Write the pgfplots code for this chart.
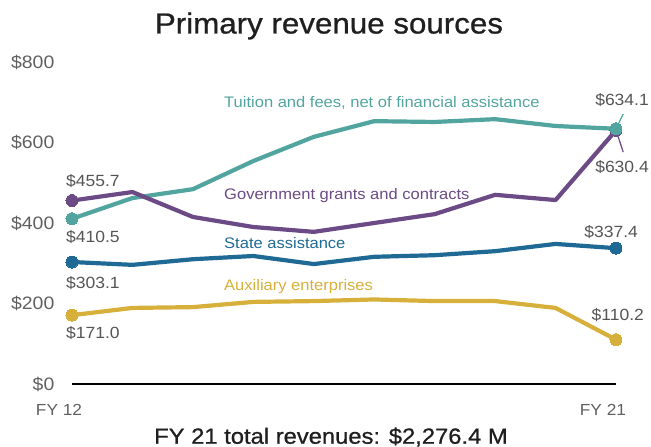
\documentclass[border=0pt]{standalone}
\usepackage{fontspec}
\setmainfont{Liberation Sans}[FakeStretch=1.08]
\newfontfamily\titlefont{Liberation Sans}[FakeStretch=1.08, FakeBold=0.8]
\usepackage{pgfplots}
\pgfplotsset{compat=1.18}

\definecolor{tuition}{HTML}{52A59E}
\definecolor{govt}{HTML}{6C4A85}
\definecolor{state}{HTML}{1F6A94}
\definecolor{aux}{HTML}{D6B03A}
\definecolor{ticktxt}{HTML}{606060}
\definecolor{lbltxt}{HTML}{555555}

\begin{document}
\begin{tikzpicture}
\path[use as bounding box] (0pt,0pt) rectangle (651pt,447pt);
\begin{axis}[
scale only axis,
width=544pt,
height=322pt,
at={(72pt,63pt)},
anchor=south west,
xmin=0, xmax=9,
ymin=0, ymax=800,
clip=false,
axis x line=bottom,
axis y line=left,
axis line style={-, line width=1.4pt, black},
y axis line style={draw=none},
xtick={0,9},
xticklabels={FY 12,FY 21},
ytick={0,200,400,600,800},
yticklabels={\$0,\$200,\$400,\$600,\$800},
tick style={draw=none},
xticklabel style={font=\fontsize{16}{18}\selectfont, text=ticktxt, xshift=-13pt, yshift=-15pt},
yticklabel style={font=\fontsize{18}{20}\selectfont, text=ticktxt, anchor=east, xshift=-12pt},
every axis plot/.append style={line width=4.2pt, line join=round, mark=*, mark size=6pt, mark indices={1,10}},
]
% Tuition and fees
\addplot[color=tuition, mark options={fill=tuition, draw=tuition, line width=0pt}] coordinates {
(0,410.5)(1,462)(2,484)(3,554)(4,614)(5,653)(6,651)(7,658)(8,641)(9,634.1)};
% Government grants
\addplot[color=govt, mark options={fill=govt, draw=govt, line width=0pt}] coordinates {
(0,455.7)(1,477)(2,415)(3,390)(4,378)(5,400)(6,422)(7,470)(8,457)(9,630.4)};
% State assistance
\addplot[color=state, mark options={fill=state, draw=state, line width=0pt}] coordinates {
(0,303.1)(1,296)(2,310)(3,318)(4,298)(5,316)(6,320)(7,330)(8,348)(9,337.4)};
% Auxiliary enterprises
\addplot[color=aux, mark options={fill=aux, draw=aux, line width=0pt}] coordinates {
(0,171.0)(1,189)(2,191)(3,204)(4,206)(5,210)(6,206)(7,206)(8,189)(9,110.2)};

% tuition end marker on top
\addplot[color=tuition, mark options={fill=tuition, draw=tuition, line width=0pt}, mark indices={1}, draw=none] coordinates {(9,634.1)};

% series labels
\node[anchor=west, inner sep=0pt, text=tuition, font=\fontsize{15.3}{17}\selectfont] at (axis cs:2.515,698) {Tuition and fees, net of financial assistance};
\node[anchor=west, inner sep=0pt, text=govt, font=\fontsize{15.3}{17}\selectfont] at (axis cs:2.515,467) {Government grants and contracts};
\node[anchor=west, inner sep=0pt, text=state, font=\fontsize{15.3}{17}\selectfont] at (axis cs:2.515,350) {State assistance};
\node[anchor=west, inner sep=0pt, text=aux, font=\fontsize{15.3}{17}\selectfont] at (axis cs:2.515,241) {Auxiliary enterprises};

% value labels
\node[anchor=west, inner sep=0pt, text=lbltxt, font=\fontsize{16.2}{18}\selectfont] at (axis cs:-0.1,504) {\$455.7};
\node[anchor=west, inner sep=0pt, text=lbltxt, font=\fontsize{16.2}{18}\selectfont] at (axis cs:-0.1,365) {\$410.5};
\node[anchor=west, inner sep=0pt, text=lbltxt, font=\fontsize{16.2}{18}\selectfont] at (axis cs:-0.1,251) {\$303.1};
\node[anchor=west, inner sep=0pt, text=lbltxt, font=\fontsize{16.2}{18}\selectfont] at (axis cs:-0.1,127) {\$171.0};
\node[inner sep=0pt, text=lbltxt, font=\fontsize{16.2}{18}\selectfont] at (axis cs:9.1,706) {\$634.1};
\node[inner sep=0pt, text=lbltxt, font=\fontsize{16.2}{18}\selectfont] at (axis cs:9.1,539) {\$630.4};
\node[inner sep=0pt, text=lbltxt, font=\fontsize{16.2}{18}\selectfont] at (axis cs:8.92,378) {\$337.4};
\node[inner sep=0pt, text=lbltxt, font=\fontsize{16.2}{18}\selectfont] at (axis cs:9.03,171) {\$110.2};
\draw[tuition, line width=1.2pt] (axis cs:9,634.1) -- (axis cs:9.12,671);
\draw[govt, line width=1.2pt] (axis cs:9,630.4) -- (axis cs:9.12,576);
\end{axis}
\node[text=black!88, font=\titlefont\fontsize{29}{33}\selectfont] at (329pt,421pt) {Primary revenue sources};
\node[text=black!88, font=\titlefont\fontsize{22}{26}\selectfont] at (331pt,10pt) {FY 21 total revenues: \$2,276.4 M};
\end{tikzpicture}
\end{document}
